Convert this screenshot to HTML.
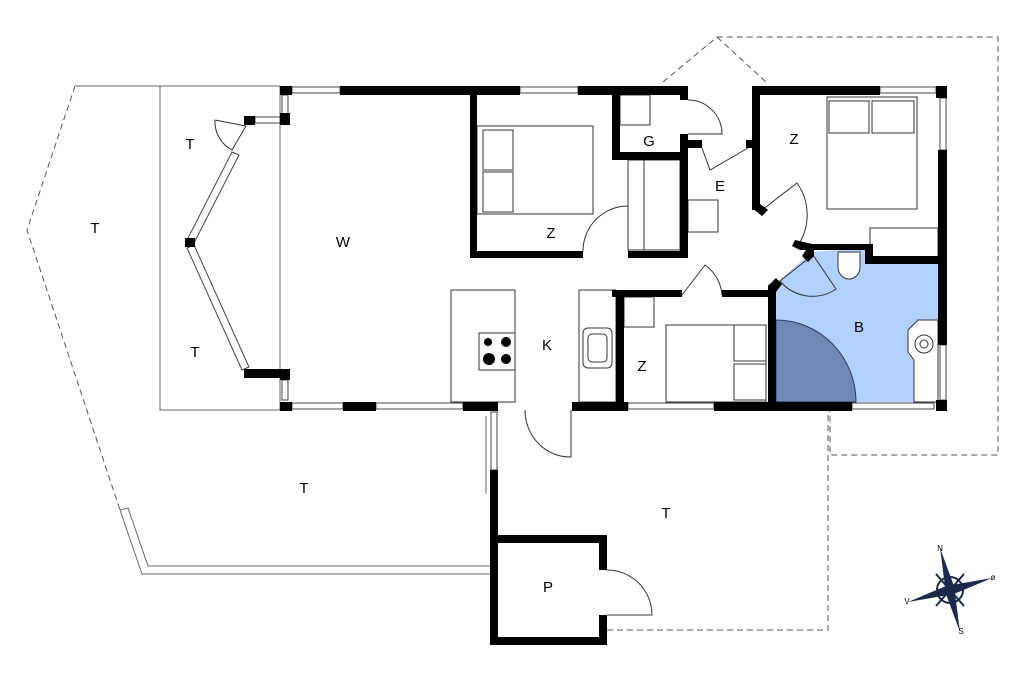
<!DOCTYPE html>
<html><head><meta charset="utf-8"><style>
html,body{margin:0;padding:0;background:#fff;}
svg{display:block;}
text{font-family:"Liberation Sans",sans-serif;font-size:15px;fill:#000;text-anchor:middle;}
</style></head><body>
<svg width="1024" height="682" viewBox="0 0 1024 682" xmlns="http://www.w3.org/2000/svg">
<g fill="none" stroke="#555" stroke-width="1" stroke-dasharray="6,4">
<polyline points="75,86 27,230 120,510"/>
<polyline points="663,82 717,37 998,37 998,455 830,455 830,410"/>
<line x1="717" y1="37" x2="766" y2="82"/>
<polyline points="607,630 828,630 828,410"/>
</g>
<g fill="none" stroke="#666" stroke-width="1">
<line x1="75" y1="86" x2="160" y2="86"/>
<rect x="160" y="86" width="120" height="324"/>
<polyline points="120,510 128,508 148,566 490,566"/>
<polyline points="120,510 142,574 490,574"/>
<line x1="486" y1="416" x2="486" y2="494"/>
</g>
<polygon points="776,288 782,278 812,252 840,250 870,250 870,264 938,264 938,402 776,402" fill="#b3d1ff"/>
<path d="M776,320 A80,82 0 0 1 856,402 L776,402 Z" fill="#6f88b4" stroke="#2a3d66" stroke-width="1"/>
<g fill="#fff" stroke="#333" stroke-width="1">
<rect x="477" y="126" width="116" height="88"/>
<rect x="483" y="130" width="30" height="40"/><rect x="483" y="172" width="30" height="40"/>
<rect x="827" y="97" width="90" height="112"/>
<rect x="829" y="101" width="40" height="32"/><rect x="872" y="101" width="42" height="32"/>
<rect x="870" y="228" width="68" height="30"/>
<rect x="666" y="325" width="100" height="77"/>
<rect x="734" y="325" width="32" height="36"/><rect x="734" y="364" width="32" height="36"/>
<rect x="624" y="297" width="30" height="30"/>
<rect x="451" y="290" width="64" height="112"/>
<rect x="479" y="333" width="36" height="37"/>
<rect x="579" y="290" width="37" height="112"/>
<rect x="583" y="328" width="29" height="40" rx="5"/>
<rect x="588" y="334" width="19" height="28" rx="4"/>
<rect x="620" y="95" width="30" height="30"/>
<rect x="628" y="160" width="52" height="90"/><line x1="644" y1="160" x2="644" y2="250"/>
<rect x="688" y="200" width="30" height="32"/>
<path d="M838,252 h22 v15 a11,12 0 0 1 -22,0 z"/>
<polygon points="918,320 938,320 938,402 914,402 914,360 908,352 908,330"/>
<circle cx="924" cy="344" r="9"/><circle cx="924" cy="344" r="4"/>
</g>
<g fill="#000"><circle cx="488" cy="342" r="4"/><circle cx="506" cy="342" r="5"/><circle cx="489" cy="359" r="6"/><circle cx="506" cy="359" r="5"/></g>
<g fill="none" stroke="#333" stroke-width="1">
<path d="M583,251 A45,45 0 0 1 628,206 L628,251"/>
<path d="M688,100 A34,34 0 0 1 722,134 L688,134"/>
<path d="M702,148 L710,170 L748,148"/>
<path d="M762,210 L797,183 A55,55 0 0 1 800,242"/>
<path d="M682,295 L705,265 A40,40 0 0 1 722,295"/>
<path d="M813,255 L780,281 A42,42 0 0 0 836,289 Z"/>
<path d="M525,410 A45,47 0 0 0 571,457 L571,410"/>
<path d="M607,570 A45,45 0 0 1 652,615 L607,615"/>
<path d="M215,120 L246,126 L232,150 A32,32 0 0 1 215,120"/>
</g>
<g fill="#fff" stroke="#444" stroke-width="1">
<rect x="292" y="87" width="48" height="6"/><rect x="520" y="87" width="58" height="6"/><rect x="880" y="87" width="56" height="6"/>
<rect x="940" y="98" width="6" height="52"/><rect x="940" y="345" width="6" height="55"/>
<rect x="292" y="403" width="51" height="6"/><rect x="376" y="403" width="87" height="6"/>
<rect x="628" y="403" width="86" height="6"/><rect x="852" y="403" width="82" height="6"/>
<rect x="282" y="95" width="6" height="20"/><rect x="255" y="117" width="25" height="6"/>
<rect x="282" y="380" width="6" height="20"/>
<rect x="491" y="412" width="6" height="58"/>
<polygon points="232,152 239,155 194,243 187,240"/>
<polygon points="194,245 187,248 242,370 249,367"/>
</g>
<g fill="#000">
<rect x="280" y="86" width="12" height="9"/><rect x="340" y="86" width="180" height="9"/><rect x="578" y="86" width="110" height="9"/>
<rect x="752" y="86" width="128" height="9"/><rect x="936" y="86" width="11" height="12"/>
<rect x="938" y="150" width="9" height="195"/><rect x="936" y="400" width="11" height="11"/>
<rect x="280" y="402" width="12" height="9"/><rect x="343" y="402" width="33" height="9"/><rect x="463" y="402" width="35" height="9"/>
<rect x="572" y="402" width="56" height="9"/><rect x="714" y="402" width="138" height="9"/>
<rect x="280" y="113" width="10" height="12"/><rect x="244" y="116" width="11" height="9"/>
<rect x="185" y="238" width="10" height="9"/>
<rect x="244" y="369" width="46" height="9"/><rect x="280" y="369" width="10" height="11"/>
<rect x="470" y="86" width="7" height="172"/><rect x="470" y="251" width="113" height="7"/><rect x="628" y="251" width="60" height="7"/>
<rect x="612" y="86" width="8" height="74"/><rect x="612" y="152" width="76" height="8"/>
<rect x="680" y="86" width="8" height="14"/><rect x="680" y="134" width="8" height="124"/><rect x="680" y="140" width="22" height="8"/>
<rect x="746" y="140" width="14" height="8"/>
<rect x="752" y="86" width="8" height="124"/><polygon points="752,208 760,204 768,210 762,216"/>
<polygon points="795,240 812,244 870,244 870,250 800,250 792,246"/>
<polygon points="806,250 814,250 814,256 808,262 802,256"/>
<polygon points="768,286 776,278 782,284 776,292 768,292"/>
<rect x="865" y="244" width="8" height="20"/><rect x="865" y="256" width="82" height="8"/>
<rect x="768" y="285" width="8" height="126"/>
<rect x="612" y="290" width="70" height="7"/><rect x="722" y="290" width="50" height="7"/>
<rect x="616" y="290" width="8" height="121"/>
<rect x="490" y="470" width="8" height="175"/>
<rect x="490" y="535" width="117" height="8"/><rect x="599" y="535" width="8" height="35"/>
<rect x="599" y="615" width="8" height="30"/><rect x="490" y="637" width="117" height="8"/>
</g>
<text x="190" y="149">T</text><text x="95" y="233">T</text><text x="195" y="357">T</text>
<text x="343" y="247">W</text><text x="551" y="238">Z</text><text x="649" y="146">G</text>
<text x="720" y="191">E</text><text x="794" y="144">Z</text><text x="547" y="350">K</text>
<text x="642" y="371">Z</text><text x="859" y="332">B</text>
<text x="304" y="493">T</text><text x="666" y="518">T</text><text x="548" y="592">P</text>
<g transform="translate(950,590)">
<circle r="13" fill="none" stroke="#1b2a4a" stroke-width="2"/>
<polygon points="-10,-42 4,-4 -4,4" fill="#1b2a4a"/><polygon points="10,42 -4,4 4,-4" fill="#1b2a4a"/>
<polygon points="42,-12 4,4 -4,-4" fill="#1b2a4a"/><polygon points="-42,12 -4,-4 4,4" fill="#1b2a4a"/>
<line x1="-14" y1="-16" x2="14" y2="16" stroke="#1b2a4a" stroke-width="2"/>
<line x1="14" y1="-16" x2="-14" y2="16" stroke="#1b2a4a" stroke-width="2"/>
<circle r="5" fill="#1b2a4a"/>
<text x="-10" y="-39" style="font-size:8px">N</text><text x="11" y="44" style="font-size:8px">S</text>
<text x="43" y="-10" style="font-size:8px">ø</text><text x="-43" y="14" style="font-size:8px">V</text>
</g>
</svg>
</body></html>
